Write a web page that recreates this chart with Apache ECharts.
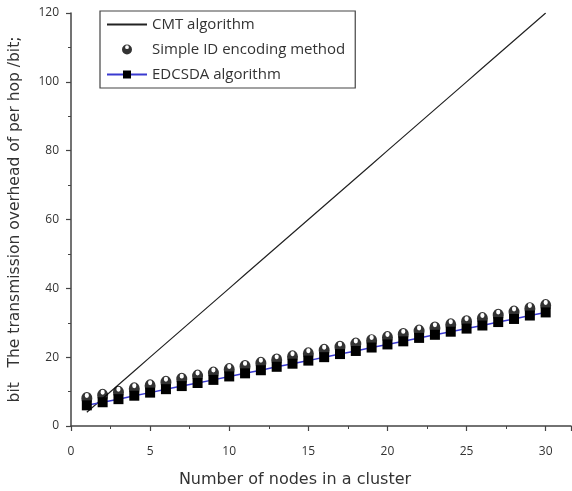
<!DOCTYPE html>
<html>
<head>
<meta charset="utf-8">
<script src="https://cdn.jsdelivr.net/npm/echarts@6/dist/echarts.min.js"></script>
<style>
  html, body { margin: 0; padding: 0; background: #fff; }
  #main { width: 572px; height: 491px; }
</style>
</head>
<body>
<div id="main"></div>
<script>
// 数据
var nodes = [1, 2, 3, 4, 5, 6, 7, 8, 9, 10, 11, 12, 13, 14, 15,
  16, 17, 18, 19, 20, 21, 22, 23, 24, 25, 26, 27, 28, 29, 30];
var cmtValues = [4, 8, 12, 16, 20, 24, 28, 32, 36, 40, 44, 48, 52, 56, 60,
  64, 68, 72, 76, 80, 84, 88, 92, 96, 100, 104, 108, 112, 116, 120];
var simpleIdValues = [8, 8.9, 9.8, 10.8, 11.7, 12.7, 13.6, 14.5, 15.4, 16.4,
  17.3, 18.2, 19.2, 20.1, 21.0, 22.0, 22.9, 23.8, 24.8, 25.7,
  26.6, 27.6, 28.5, 29.4, 30.3, 31.2, 32.2, 33.1, 34.1, 35];
var edcsdaValues = [6, 6.9, 7.8, 8.8, 9.7, 10.7, 11.6, 12.5, 13.4, 14.4,
  15.3, 16.2, 17.2, 18.1, 19.0, 20.0, 20.9, 21.8, 22.8, 23.7,
  24.6, 25.6, 26.5, 27.4, 28.3, 29.2, 30.2, 31.1, 32.1, 33];
var seriesNames = ['CMT algorithm', 'Simple ID encoding method', 'EDCSDA algorithm'];

function pairs(xs, ys) {
  var out = [];
  for (var i = 0; i < xs.length; i++) {
    out.push([xs[i], ys[i]]);
  }
  return out;
}

var myChart = echarts.init(document.getElementById('main'));
var font = '"Open Sans", sans-serif';
var nameFont = '"DejaVu Sans", sans-serif';
var textColor = '#333';
// 圆形标记，上方带白色小孔
var holeCircle = 'path://M0,-10 A10,10 0 1,1 0,10 A10,10 0 1,1 0,-10 Z M0,-8.5 A3.8,3.8 0 1,0 0,-0.9 A3.8,3.8 0 1,0 0,-8.5 Z';

var option = {
  animation: false,
  backgroundColor: '#fff',
  grid: {
    left: 71,
    top: 13,
    width: 500,
    bottom: 65,
    outerBoundsMode: 'none'
  },
  legend: {
    orient: 'vertical',
    left: 100,
    top: 11,
    padding: [6, 10, 6, 6],
    itemWidth: 40,
    itemHeight: 10,
    itemGap: 10,
    borderColor: '#444',
    borderWidth: 1.2,
    backgroundColor: '#fff',
    data: [
      { name: seriesNames[0], itemStyle: { opacity: 0 } },
      { name: seriesNames[1] },
      { name: seriesNames[2] }
    ],
    textStyle: {
      fontFamily: font,
      fontSize: 15,
      color: textColor
    }
  },
  xAxis: {
    type: 'value',
    min: 0,
    max: 31.6,
    interval: 5,
    name: 'Number of nodes in a cluster',
    nameLocation: 'middle',
    nameGap: 46,
    nameTextStyle: {
      fontFamily: nameFont,
      fontSize: 16,
      color: textColor,
      padding: [0, 52, 0, 0]
    },
    axisLine: { lineStyle: { color: '#444', width: 1.5 } },
    axisTick: { show: true, length: 5, lineStyle: { color: '#444', width: 1.2 } },
    minorTick: { show: true, splitNumber: 2, length: 3, lineStyle: { color: '#444' } },
    axisLabel: {
      showMaxLabel: false,
      margin: 20,
      fontFamily: font,
      fontSize: 12,
      color: textColor
    },
    splitLine: { show: false }
  },
  yAxis: {
    type: 'value',
    min: 0,
    max: 120,
    interval: 20,
    name: 'bit   The transmission overhead of per hop /bit;',
    nameLocation: 'middle',
    nameGap: 48,
    nameTextStyle: {
      fontFamily: nameFont,
      fontSize: 15.5,
      color: textColor
    },
    axisLine: { show: true, lineStyle: { color: '#444', width: 1.5 } },
    axisTick: { show: true, length: 5, lineStyle: { color: '#444', width: 1.2 } },
    minorTick: { show: true, splitNumber: 2, length: 3, lineStyle: { color: '#444' } },
    axisLabel: {
      margin: 12,
      fontFamily: font,
      fontSize: 12,
      color: textColor
    },
    splitLine: { show: false }
  },
  series: [
    {
      name: seriesNames[0],
      type: 'line',
      data: pairs(nodes, cmtValues),
      symbol: 'none',
      color: '#222',
      lineStyle: { color: '#222', width: 1.2 },
      z: 2
    },
    {
      name: seriesNames[2],
      type: 'line',
      data: pairs(nodes, edcsdaValues),
      symbol: 'rect',
      symbolSize: 10,
      color: '#000',
      itemStyle: { color: '#000' },
      lineStyle: { color: '#3a3ad0', width: 1.5 },
      z: 3
    },
    {
      name: seriesNames[1],
      type: 'scatter',
      data: pairs(nodes, simpleIdValues),
      symbol: holeCircle,
      symbolSize: [11, 13],
      itemStyle: { color: '#000' },
      z: 4
    }
  ]
};
myChart.setOption(option);
</script>
</body>
</html>
